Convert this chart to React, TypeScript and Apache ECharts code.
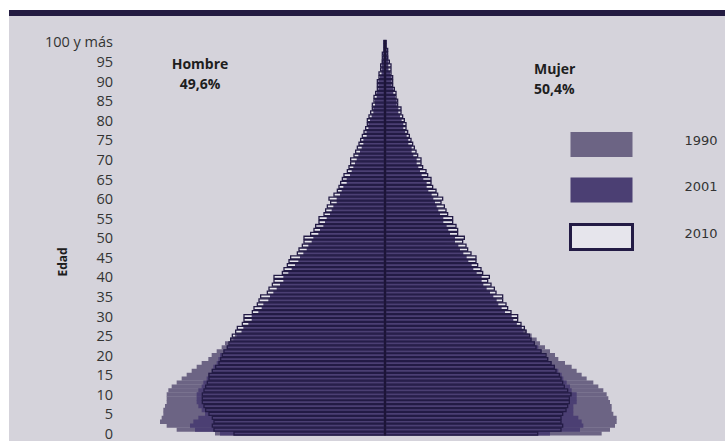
import React, { useEffect, useRef } from "react";
import * as echarts from "echarts";

// Edades simples 0 … 100 (la última es "100 y más")
const edades: string[] = Array.from({ length: 101 }, (_, i) => String(i));

// Porcentaje de la población total por edad simple y sexo
const hombres1990 = [
  1.02, 1.25, 1.31, 1.35, 1.34, 1.33, 1.33, 1.32, 1.31, 1.31,
  1.31, 1.30, 1.28, 1.25, 1.22, 1.19, 1.16, 1.13, 1.10, 1.06,
  1.04, 1.01, 0.98, 0.96, 0.93, 0.90, 0.86, 0.83, 0.80, 0.77,
  0.76, 0.71, 0.69, 0.67, 0.64, 0.62, 0.59, 0.57, 0.55, 0.53,
  0.53, 0.49, 0.47, 0.46, 0.44, 0.43, 0.40, 0.38, 0.37, 0.35,
  0.35, 0.32, 0.31, 0.30, 0.29, 0.28, 0.26, 0.25, 0.25, 0.23,
  0.23, 0.21, 0.20, 0.19, 0.19, 0.18, 0.17, 0.16, 0.15, 0.14,
  0.14, 0.13, 0.11, 0.11, 0.10, 0.10, 0.09, 0.08, 0.08, 0.07,
  0.07, 0.06, 0.05, 0.05, 0.05, 0.04, 0.04, 0.04, 0.03, 0.02,
  0.02, 0.02, 0.02, 0.01, 0.01, 0.01, 0.01, 0.01, 0.01, 0.01,
  0.01,
];
const hombres2001 = [
  0.99, 1.14, 1.17, 1.15, 1.12, 1.08, 1.10, 1.12, 1.13, 1.13,
  1.13, 1.12, 1.10, 1.09, 1.07, 1.06, 1.04, 1.03, 1.01, 1.00,
  0.99, 0.97, 0.95, 0.93, 0.91, 0.89, 0.86, 0.85, 0.82, 0.80,
  0.80, 0.76, 0.74, 0.73, 0.70, 0.69, 0.67, 0.65, 0.63, 0.61,
  0.61, 0.58, 0.56, 0.54, 0.52, 0.51, 0.49, 0.47, 0.46, 0.44,
  0.43, 0.40, 0.39, 0.37, 0.36, 0.35, 0.33, 0.32, 0.31, 0.29,
  0.29, 0.27, 0.26, 0.25, 0.23, 0.23, 0.21, 0.20, 0.19, 0.18,
  0.17, 0.16, 0.15, 0.14, 0.13, 0.13, 0.11, 0.11, 0.10, 0.10,
  0.09, 0.08, 0.07, 0.07, 0.06, 0.06, 0.05, 0.05, 0.04, 0.04,
  0.04, 0.03, 0.02, 0.02, 0.02, 0.02, 0.01, 0.01, 0.01, 0.01,
  0.01,
];
const hombres2010 = [
  0.91, 1.03, 1.04, 1.03, 1.04, 1.06, 1.08, 1.09, 1.10, 1.10,
  1.10, 1.09, 1.08, 1.07, 1.06, 1.06, 1.04, 1.02, 1.00, 0.99,
  0.98, 0.97, 0.95, 0.94, 0.93, 0.92, 0.90, 0.89, 0.86, 0.85,
  0.85, 0.80, 0.79, 0.77, 0.76, 0.75, 0.71, 0.70, 0.68, 0.67,
  0.67, 0.62, 0.61, 0.59, 0.58, 0.57, 0.53, 0.52, 0.50, 0.49,
  0.49, 0.45, 0.43, 0.42, 0.40, 0.40, 0.37, 0.36, 0.35, 0.33,
  0.34, 0.31, 0.29, 0.28, 0.27, 0.26, 0.25, 0.23, 0.22, 0.21,
  0.21, 0.19, 0.18, 0.17, 0.16, 0.15, 0.14, 0.13, 0.12, 0.11,
  0.11, 0.10, 0.09, 0.08, 0.08, 0.07, 0.07, 0.06, 0.05, 0.05,
  0.05, 0.04, 0.04, 0.03, 0.03, 0.02, 0.02, 0.02, 0.01, 0.01,
  0.01,
];
const mujeres1990 = [
  1.30, 1.35, 1.38, 1.39, 1.39, 1.37, 1.36, 1.36, 1.35, 1.34,
  1.33, 1.31, 1.28, 1.25, 1.21, 1.18, 1.15, 1.12, 1.08, 1.04,
  1.02, 0.99, 0.96, 0.93, 0.91, 0.88, 0.85, 0.82, 0.79, 0.76,
  0.74, 0.70, 0.68, 0.65, 0.63, 0.61, 0.58, 0.56, 0.55, 0.53,
  0.52, 0.49, 0.47, 0.46, 0.44, 0.43, 0.40, 0.39, 0.37, 0.36,
  0.35, 0.33, 0.32, 0.31, 0.29, 0.29, 0.27, 0.26, 0.25, 0.24,
  0.24, 0.22, 0.21, 0.20, 0.19, 0.19, 0.17, 0.16, 0.16, 0.15,
  0.14, 0.13, 0.13, 0.11, 0.11, 0.10, 0.10, 0.09, 0.08, 0.08,
  0.07, 0.07, 0.06, 0.05, 0.05, 0.05, 0.04, 0.04, 0.04, 0.03,
  0.03, 0.02, 0.02, 0.02, 0.01, 0.01, 0.01, 0.01, 0.01, 0.01,
  0.01,
];
const mujeres2001 = [
  0.99, 1.17, 1.19, 1.18, 1.16, 1.13, 1.13, 1.13, 1.15, 1.15,
  1.15, 1.12, 1.11, 1.09, 1.07, 1.06, 1.04, 1.02, 1.00, 0.98,
  0.96, 0.94, 0.92, 0.90, 0.88, 0.86, 0.83, 0.82, 0.79, 0.77,
  0.76, 0.72, 0.70, 0.68, 0.67, 0.65, 0.63, 0.61, 0.59, 0.58,
  0.58, 0.55, 0.53, 0.52, 0.50, 0.49, 0.47, 0.45, 0.44, 0.42,
  0.42, 0.39, 0.38, 0.37, 0.35, 0.35, 0.33, 0.32, 0.31, 0.30,
  0.29, 0.28, 0.26, 0.25, 0.25, 0.23, 0.22, 0.21, 0.20, 0.19,
  0.19, 0.17, 0.16, 0.16, 0.14, 0.14, 0.13, 0.12, 0.11, 0.11,
  0.10, 0.09, 0.08, 0.08, 0.07, 0.07, 0.06, 0.05, 0.05, 0.04,
  0.04, 0.04, 0.03, 0.02, 0.02, 0.02, 0.02, 0.01, 0.01, 0.01,
  0.01,
];
const mujeres2010 = [
  0.92, 1.06, 1.07, 1.06, 1.06, 1.07, 1.09, 1.10, 1.11, 1.11,
  1.12, 1.10, 1.08, 1.07, 1.06, 1.05, 1.03, 1.02, 1.00, 0.98,
  0.97, 0.94, 0.91, 0.90, 0.88, 0.87, 0.85, 0.84, 0.82, 0.80,
  0.80, 0.76, 0.74, 0.73, 0.71, 0.71, 0.67, 0.66, 0.64, 0.62,
  0.63, 0.59, 0.58, 0.56, 0.55, 0.55, 0.52, 0.50, 0.49, 0.47,
  0.48, 0.44, 0.44, 0.43, 0.41, 0.41, 0.38, 0.37, 0.36, 0.34,
  0.35, 0.32, 0.31, 0.29, 0.28, 0.28, 0.26, 0.25, 0.23, 0.22,
  0.22, 0.20, 0.19, 0.18, 0.17, 0.16, 0.15, 0.14, 0.13, 0.13,
  0.12, 0.11, 0.10, 0.10, 0.08, 0.08, 0.07, 0.07, 0.06, 0.05,
  0.05, 0.05, 0.04, 0.04, 0.04, 0.03, 0.02, 0.02, 0.02, 0.01,
  0.01,
];

const anios = ["1990", "2001", "2010"];
const textoHombre = ["Hombre", "49,6%"];
const textoMujer = ["Mujer", "50,4%"];

const C1990 = "#6c6484";
const C2001 = "#4b3f73";
const C2010 = "#231b45";
const CFONDO2010 = "#e6e5ec";

export default function App() {
  const ref = useRef<HTMLDivElement>(null);

  useEffect(() => {
    document.body.style.margin = "0";
    const chart = echarts.init(ref.current!, undefined, { renderer: "svg" });
    const neg = (a: number[]) => a.map((v) => -v);
    const base = {
      type: "bar",
      barWidth: 4.3,
      barGap: "-100%",
      silent: true,
    };
    const solid = (name: string, data: number[], color: string) => ({
      ...base,
      name,
      data,
      itemStyle: { color },
    });
    const outline = (data: number[], withLine: boolean) => ({
      ...base,
      name: anios[2],
      data,
      itemStyle: { color: "rgba(0,0,0,0)", borderColor: C2010, borderWidth: 1.3 },
      ...(withLine
        ? {
            markLine: {
              silent: true,
              symbol: "none",
              label: { show: false },
              lineStyle: { color: "#1c1535", width: 1.5, type: "solid" },
              data: [{ xAxis: 0 }],
            },
          }
        : {}),
    });
    const fondo = (data: number[]) => ({
      ...base,
      name: "fondo2010",
      data,
      itemStyle: { color: CFONDO2010 },
    });

    const bold = (text: string, x: number, y: number, align: string) => ({
      type: "text",
      x,
      y,
      style: {
        text,
        fontFamily: "Open Sans",
        fontWeight: "bold",
        fontSize: 14,
        fill: "#1e1e1e",
        textAlign: align,
        textVerticalAlign: "middle",
      },
    });

    chart.setOption({
      animation: false,
      backgroundColor: "#ffffff",
      graphic: [
        { type: "rect", shape: { x: 9, y: 10, width: 716, height: 6 }, style: { fill: "#241c42" }, z: -10 },
        { type: "rect", shape: { x: 9, y: 16, width: 716, height: 425 }, style: { fill: "#d5d3db" }, z: -10 },
        bold(textoHombre[0], 200, 63, "center"),
        bold(textoHombre[1], 200, 83, "center"),
        bold(textoMujer[0], 534, 68, "left"),
        bold(textoMujer[1], 534, 88, "left"),
        {
          type: "text", x: 62, y: 262, rotation: Math.PI / 2,
          style: { text: "Edad", fontFamily: "Open Sans", fontWeight: "bold", fontSize: 12, fill: "#1e1e1e", textAlign: "center", textVerticalAlign: "middle" },
        },
      ],
      grid: { left: 135, right: 90, top: 40, bottom: 2 },
      xAxis: { type: "value", min: -1.5, max: 1.5, show: false },
      yAxis: {
        type: "category",
        data: edades,
        axisLine: { show: false },
        axisTick: { show: false },
        splitLine: { show: false },
        axisLabel: {
          interval: (i: number) => i % 5 === 0,
          formatter: (v: string) => (v === "100" ? "100 y más" : v),
          margin: 22,
          fontFamily: "Open Sans",
          fontSize: 14.5,
          color: "#333333",
        },
      },
      legend: {
        orient: "vertical",
        left: 569,
        top: 132,
        padding: 0,
        itemWidth: 62,
        itemHeight: 25,
        itemGap: 20.5,
        icon: "rect",
        selectedMode: false,
        formatter: (name: string) => `{t|${name}}`,
        textStyle: {
          fontFamily: "DejaVu Sans",
          fontSize: 13,
          color: "#333333",
          rich: {
            t: {
              fontFamily: "DejaVu Sans",
              fontSize: 13,
              color: "#333333",
              padding: [0, 0, 8, 47],
            },
          },
        },
        data: [
          { name: anios[0], itemStyle: { color: C1990, borderWidth: 0 } },
          { name: anios[1], itemStyle: { color: C2001, borderWidth: 0 } },
          { name: anios[2], itemStyle: { color: CFONDO2010, borderColor: C2010, borderWidth: 3 } },
        ],
      },
      series: [
        fondo(neg(hombres2010)),
        fondo(mujeres2010),
        solid(anios[0], neg(hombres1990), C1990),
        solid(anios[0], mujeres1990, C1990),
        solid(anios[1], neg(hombres2001), C2001),
        solid(anios[1], mujeres2001, C2001),
        outline(neg(hombres2010), false),
        outline(mujeres2010, true),
      ],
    });
    return () => chart.dispose();
  }, []);

  return <div ref={ref} style={{ width: 725, height: 441 }} />;
}
